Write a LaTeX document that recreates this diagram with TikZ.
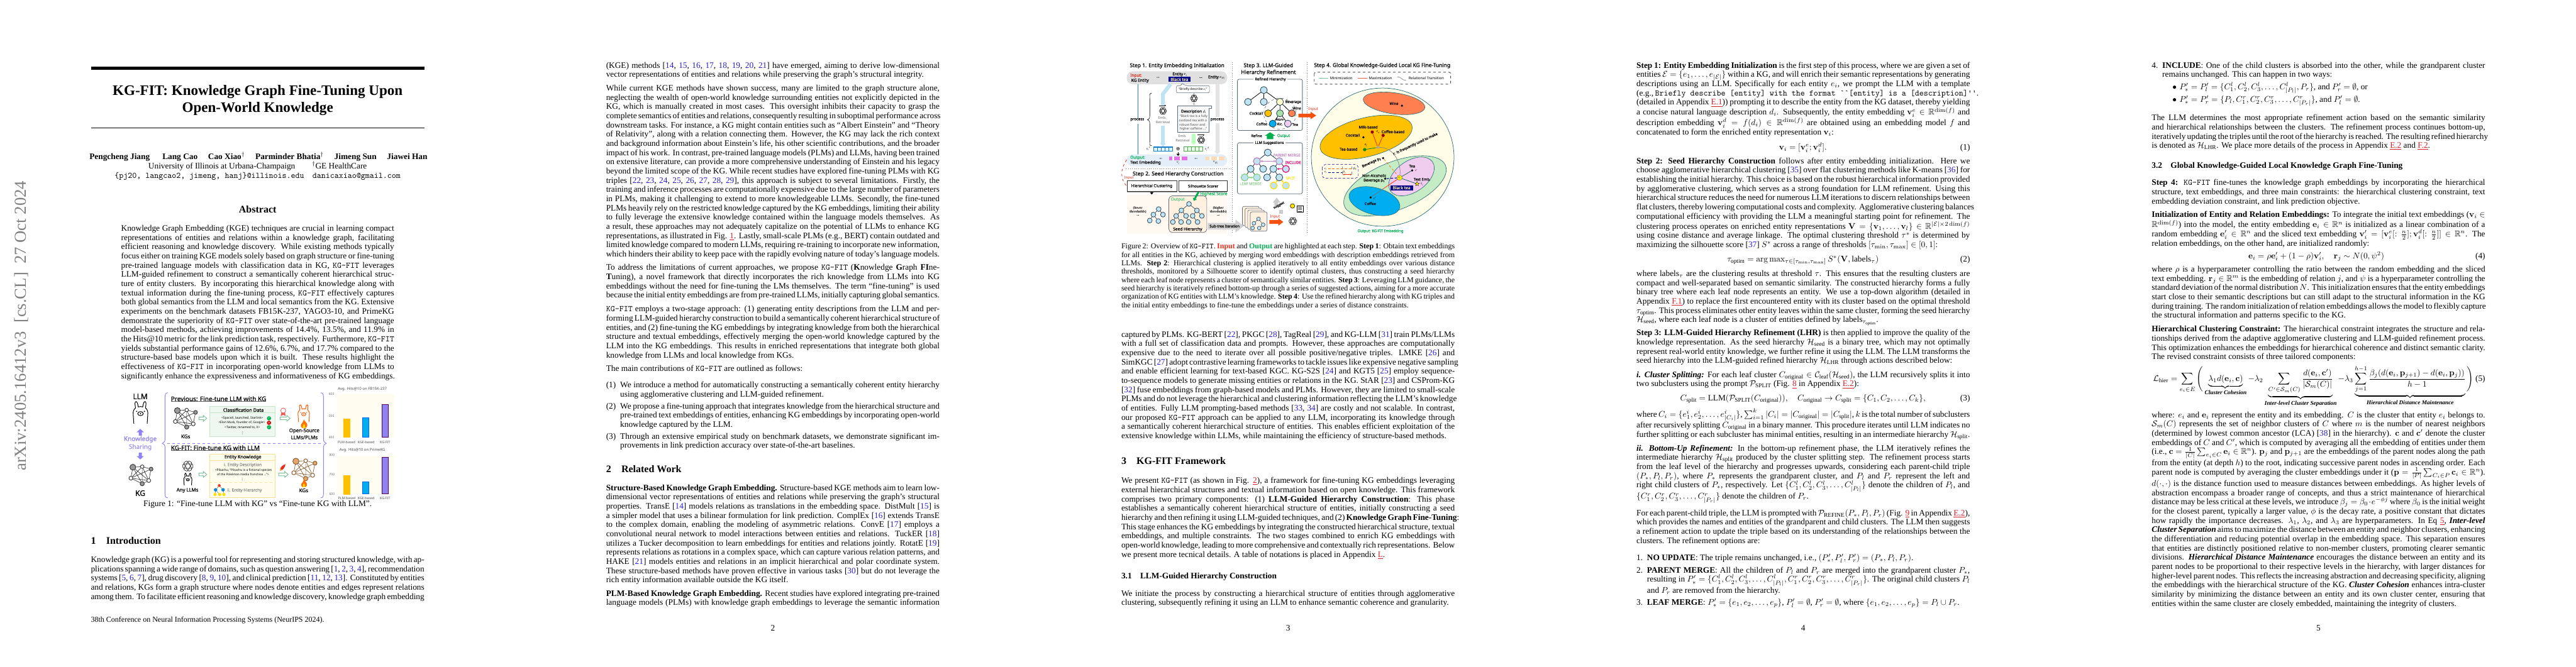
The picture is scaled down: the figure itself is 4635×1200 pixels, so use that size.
\documentclass[tikz,border=0pt]{standalone}
\usepackage{amsmath,amssymb}
\usepackage[no-math]{fontspec}
\setmainfont{Liberation Serif}
\newfontfamily\figf{Noto Sans}
\newfontfamily\figb{Noto Sans}[FakeBold=0.7]
\newfontfamily\dvf{DejaVu Sans}
\usetikzlibrary{arrows.meta,shapes.geometric}
\definecolor{citeb}{HTML}{2A1FC8}
\definecolor{linkr}{HTML}{D8202A}
\definecolor{figpur}{HTML}{8F82F2}
\definecolor{figgrn}{HTML}{7DBE98}
\definecolor{okgrn}{HTML}{00B050}
\definecolor{inred}{HTML}{E8301E}
\definecolor{arrred}{HTML}{F4500F}
\definecolor{boxst}{HTML}{5E6C78}
\definecolor{tblue}{HTML}{BFE3F2}
\definecolor{tedge}{HTML}{14323F}
\definecolor{navyb}{HTML}{00008B}
\definecolor{creamy}{HTML}{F5E79E}
\definecolor{cgold}{HTML}{FFC000}
\definecolor{ccoral}{HTML}{FF7F50}
\definecolor{cgreen}{HTML}{C6ECC6}
\definecolor{cnode}{HTML}{A9DFA9}
\definecolor{cpink}{HTML}{F0CDEF}
\definecolor{ccyan}{HTML}{00AEEF}
\definecolor{ccream}{HTML}{FFFDE8}
\definecolor{ellst}{HTML}{2F6F78}
\definecolor{outpill}{HTML}{E3EEF9}
\definecolor{procbl}{HTML}{2378B0}
\definecolor{clsfill}{HTML}{EFF8F0}
\definecolor{clsedge}{HTML}{C3E6CC}
\definecolor{entfill}{HTML}{FEFCEC}
\definecolor{entedge}{HTML}{F7E08F}
\definecolor{chartbg}{HTML}{FEFDF0}
\newcommand\cbl[1]{\textcolor{citeb}{#1}}
\newcommand\rlk[1]{\textcolor{linkr}{\underline{#1}}}
\newcommand\kgf{\texttt{KG-FIT}}
\def\lw{397.48pt}
\newcommand\LLn[1]{\hbox to \lw{#1}}
\newcommand\LEn[1]{\hbox{#1}}
\newcommand\txtblock[5][397.48pt]{\node[anchor=base west,inner sep=0pt,outer sep=0pt] (#2) at (#3,#4) {\vtop{\def\lw{#1}\hsize=#1\rmfamily\fontsize{10}{11}\selectfont #5}};}
\newcommand\tx[5][]{\node[anchor=base,inner sep=0pt,outer sep=0pt,font=\rmfamily\fontsize{10}{11}\selectfont,#1] (#2) at (#3,#4) {#5};}
\newcounter{lc}
\newcommand\lbl[5][]{\stepcounter{lc}\node[inner sep=0pt,outer sep=0pt,font=\figf,#1] (L\thelc) at (#2,#3) {\fontsize{#4}{#4}\selectfont #5};}
\newcommand\rei[1]{{\rmfamily\itshape #1}}
\tikzset{
 knb/.style={circle,inner sep=0pt,line width=.7pt},
 tn/.style={circle,inner sep=0pt,draw=tedge,line width=.55pt,fill=tblue,minimum size=#1},
 tn/.default=8.4pt,
 sn/.style={tn=5.8pt,line width=.5pt},
 thinarr/.style={-{Triangle[length=2.2pt,width=2.4pt]},line width=.5pt},
 panel/.style={draw=boxst,line width=.6pt,rounded corners=2pt},
}
\newcommand\kgnet[7]{%
\begin{scope}[shift={(#2,#3)},scale=#4,transform shape]
 \node[knb,draw=#5,fill=#6,minimum size=7pt] (#1a) at (-13.9,-14) {};
 \node[knb,draw=#5,fill=white,minimum size=4.2pt] (#1b) at (2.9,-15) {};
 \node[knb,draw=#5,fill=#7,minimum size=4.6pt] (#1c) at (18.8,-10.7) {};
 \node[knb,draw=#5,fill=white,minimum size=4.6pt] (#1d) at (-17.5,5.7) {};
 \node[knb,draw=#5,fill=white,minimum size=4.6pt] (#1e) at (14.7,10) {};
 \node[knb,draw=#5,fill=#6,minimum size=5pt] (#1f) at (2.9,15.7) {};
 \draw[#5,line width=.5pt] (#1a)--(#1b) (#1a)--(#1e) (#1a)--(#1f) (#1a)--(#1d) (#1b)--(#1c) (#1b)--(#1d) (#1b)--(#1f) (#1b)--(#1e) (#1c)--(#1d) (#1c)--(#1e) (#1d)--(#1e) (#1d)--(#1f) (#1e)--(#1f);
\end{scope}}
\newcommand\llamaicon[4]{%
\begin{scope}[shift={(#1,#2)},scale=#3,draw=#4,line width=.75pt]
 \draw (-12,20) -- (-13,5) .. controls (-14,-2) and (-12,-6) .. (-9,-8) -- (-10,-16) .. controls (-10,-21) and (-6,-21) .. (-5,-15) -- (-4,-10) .. controls (-2,-11) and (2,-11) .. (4,-10) -- (5,-15) .. controls (6,-21) and (10,-21) .. (10,-16) -- (9,-8) .. controls (12,-6) and (14,-2) .. (13,5) -- (12,20);
 \draw (0,2) ellipse [x radius=5,y radius=3.6];
 \fill[#4] (-7,-2) circle [radius=1.2] (7,-2) circle [radius=1.2] (0,2) circle [radius=1.3];
\end{scope}}
\newcommand\oailogo[3]{%
\begin{scope}[shift={(#1,#2)},scale=#3,line width=.55pt,draw=black!85]
 \foreach \r in {0,60,120}{\draw[rotate=\r,rounded corners=1.2pt] (-9,-4) rectangle (9,4);}
\end{scope}}
\newcommand\flameicon[3]{%
\begin{scope}[shift={(#1,#2)},scale=#3]
 \fill[orange!90!red] (0,8) .. controls (-7,8) and (-7,1) .. (-3,-2) .. controls (-2,-4) and (-1,-6) .. (0,-8) .. controls (1,-4) and (6,-2) .. (6,2) .. controls (6,6) and (3,8) .. (0,8) -- cycle;
 \fill[yellow!85!orange] (0,8) .. controls (-3,8) and (-3,4) .. (0,0) .. controls (2,3) and (3,8) .. (0,8) -- cycle;
\end{scope}}
\newcommand\hollowarr[4]{%
\begin{scope}[shift={(#1,#2)}]
 \draw[figgrn,fill=white,line width=.7pt] (0,-2.4) -- ({#3-6},-2.4) -- ({#3-6},-5.2) -- (#3,0) -- ({#3-6},5.2) -- ({#3-6},2.4) -- (0,2.4) -- cycle;
\end{scope}}
\newcommand\blockarr[8]{% colour x y rot len halfw headlen headhalf
\begin{scope}[shift={(#2,#3)},rotate=#4]
 \fill[#1] (0,-#6) -- ({#5-#7},-#6) -- ({#5-#7},-#8) -- (#5,0) -- ({#5-#7},#8) -- ({#5-#7},#6) -- (0,#6) -- cycle;
\end{scope}}
\begin{document}
\begin{tikzpicture}[x=0.6625pt,y=-0.6625pt]
\useasboundingbox (0,0) rectangle (4635,1200);
\fill[white] (0,0) rectangle (4635,1200);
%% ---------- PAGE 1
\node[rotate=90,inner sep=0pt,text=black!50,font=\rmfamily\fontsize{20}{20}\selectfont] (stamp) at (38.5,586.5) {arXiv:2405.16412v3\ \ [cs.CL]\ \ 27 Oct 2024};
\fill[black] (163.6,120) rectangle (763.6,126);
\tx[font=\rmfamily\bfseries\fontsize{17.28}{20}\selectfont]{t1}{463.6}{171}{KG-FIT: Knowledge Graph Fine-Tuning Upon}
\tx[font=\rmfamily\bfseries\fontsize{17.28}{20}\selectfont]{t2}{463.6}{201.5}{Open-World Knowledge}
\fill[black] (163.6,229.8) rectangle (763.6,231.3);
\tx{au1}{465}{286.3}{\textbf{Pengcheng Jiang}\quad\ \ \textbf{Lang Cao}\quad\ \textbf{Cao Xiao}$^\dagger$\quad\ \textbf{Parminder Bhatia}$^\dagger$\quad\ \textbf{Jimeng Sun}\quad\ \textbf{Jiawei Han}}
\tx{au2}{463.6}{303.5}{University of Illinois at Urbana-Champaign\qquad$^\dagger$GE HealthCare}
\tx{au3}{463.6}{320.5}{\texttt{\{pj20, langcao2, jimeng, hanj\}@illinois.edu\quad danicaxiao@gmail.com}}
\tx[font=\rmfamily\bfseries\fontsize{12}{14}\selectfont]{abs}{463.6}{382.8}{Abstract}
\txtblock[325.48pt]{abstr}{218}{415.8}{%
\LLn{Knowledge Graph Embedding (KGE) techniques are crucial in learning compact}
\LLn{representations of entities and relations within a knowledge graph, facilitating}
\LLn{efficient reasoning and knowledge discovery. While existing methods typically}
\LLn{focus either on training KGE models solely based on graph structure or fine-tuning}
\LLn{pre-trained language models with classification data in KG, \kgf{} leverages}
\LLn{LLM-guided refinement to construct a semantically coherent hierarchical struc-}
\LLn{ture of entity clusters. By incorporating this hierarchical knowledge along with}
\LLn{textual information during the fine-tuning process, \kgf{} effectively captures}
\LLn{both global semantics from the LLM and local semantics from the KG. Extensive}
\LLn{experiments on the benchmark datasets FB15K-237, YAGO3-10, and PrimeKG}
\LLn{demonstrate the superiority of \kgf{} over state-of-the-art pre-trained language}
\LLn{model-based methods, achieving improvements of 14.4\%, 13.5\%, and 11.9\% in}
\LLn{the Hits@10 metric for the link prediction task, respectively. Furthermore, \kgf}
\LLn{yields substantial performance gains of 12.6\%, 6.7\%, and 17.7\% compared to the}
\LLn{structure-based base models upon which it is built. These results highlight the}
\LLn{effectiveness of \kgf{} in incorporating open-world knowledge from LLMs to}
\LEn{significantly enhance the expressiveness and informativeness of KG embeddings.}}
%% Figure 1 (pixel coordinates)
\lbl[font=\figb]{252.4}{713.7}{8.9}{LLM}
\llamaicon{252.8}{742.5}{1}{black}
\blockarr{figpur}{252.4}{784}{90}{12}{2.8}{6}{6.5}
\lbl[font=\figb,text=figpur]{252.4}{790.7}{7.5}{Knowledge}
\lbl[font=\figb,text=figpur!85]{252.4}{805}{7.5}{Sharing}
\blockarr{figpur}{252.4}{815}{-90}{12}{2.8}{6}{6.5}
\kgnet{ka}{253}{855}{1}{black!80}{black!40}{black!40}
\lbl[font=\figb]{252.4}{887.7}{9}{KG}
\draw[figpur,line width=.7pt] (302,707) .. controls (298,707) and (297,710) .. (297,714) -- (297,790) .. controls (297,795) and (295,797) .. (292,798) .. controls (295,799) and (297,801) .. (297,806) -- (297,889) .. controls (297,894) and (298,896) .. (302,896);
\draw[figpur,line width=.7pt] (577,707) .. controls (581,707) and (582,710) .. (582,714) -- (582,790) .. controls (582,795) and (584,797) .. (587,798) .. controls (584,799) and (582,801) .. (582,806) -- (582,889) .. controls (582,894) and (581,896) .. (577,896);
\draw[figpur,dashed,line width=.7pt] (301,798) -- (578,798);
\lbl[anchor=west,font=\figb]{307.5}{717.7}{7.5}{Previous: Fine-tune LLM with KG}
\draw[black!60,line width=.6pt] (307.5,722.8) -- (479,722.8);
\kgnet{kb}{333}{753}{1}{black!80}{black!40}{black!40}
\lbl[font=\figb]{334}{785.7}{6}{KGs}
\hollowarr{358}{753}{14}{}
\draw[clsedge,fill=clsfill,line width=.6pt] (377,732) rectangle (494.5,786);
\draw[clsedge,line width=.6pt] (377,743) -- (494.5,743);
\lbl[font=\figb]{438}{738}{5.6}{Classification Data}
\lbl{436}{753}{3.7}{<SpaceX, launched, Starlink>}
\lbl{435}{761}{3.6}{<Elon Musk, founder of, Google>}
\lbl{436}{769}{3.7}{<Twitter, renamed to, X>}
\lbl[font=\dvf]{436}{780}{4}{⋮}
\node[circle,fill=okgrn,text=white,font=\dvf,minimum size=5pt,inner sep=0pt] (c1) at (484,753) {\fontsize{3.5}{3.5}\selectfont ✓};
\node[circle,fill=red!85!black,text=white,font=\dvf,minimum size=5pt,inner sep=0pt] (c2) at (484,761) {\fontsize{3.5}{3.5}\selectfont ✕};
\node[circle,fill=okgrn,text=white,font=\dvf,minimum size=5pt,inner sep=0pt] (c3) at (484,769) {\fontsize{3.5}{3.5}\selectfont ✓};
\fill[inred!80] (506.5,742) -- (505,749) -- (509.6,746.5) -- (514,749) -- (512.5,742) -- cycle;
\node[circle,draw=inred!80,fill=white,line width=.6pt,minimum size=6pt,inner sep=0pt] (medal) at (509.6,739) {};
\hollowarr{504}{753}{18}{}
\llamaicon{546.5}{744}{.78}{orange!70!red}
\flameicon{547}{763}{1}
\lbl[font=\figb]{547.5}{775.7}{5.9}{Open-Source}
\lbl[font=\figb]{547.5}{787.3}{6}{LLMs/PLMs}
\lbl[anchor=west,font=\figb]{307.5}{806}{7.5}{KG-FIT: Fine-tune KG with LLM}
\draw[black!60,line width=.6pt] (307.5,811.2) -- (467.5,811.2);
\oailogo{338}{839}{1}
\llamaicon{338}{862.5}{.55}{black}
\lbl[font=\figb]{337.3}{882.7}{5.8}{Any LLMs}
\hollowarr{358}{854}{14}{}
\draw[entedge,fill=entfill,line width=.7pt] (377,817) rectangle (494.5,896);
\draw[entedge,line width=.7pt] (377,829) -- (494.5,829);
\draw[entedge,dashed,line width=.6pt] (377,868.7) -- (494.5,868.7);
\lbl[font=\figb]{437}{823}{5.4}{Entity Knowledge}
\lbl[text=black!45,font=\figb]{437}{837}{4.9}{i. Entity Description}
\lbl{438}{846.3}{3.7}{<Pikachu, “Pikachu is a fictional species}
\lbl{437.3}{854.3}{3.6}{of the Pokémon media franchise ...”>}
\lbl[font=\dvf]{436}{863}{4}{⋮}
\node[circle,fill=inred,minimum size=3.4pt,inner sep=0pt] (hi1) at (394.5,874) {};
\node[circle,fill=cyan!70!blue,minimum size=4.2pt,inner sep=0pt] (hi2) at (388,881.7) {};
\node[circle,fill=cyan!70!blue,minimum size=4.2pt,inner sep=0pt] (hi3) at (401.4,881.7) {};
\node[circle,fill=yellow!80!orange,minimum size=3.8pt,inner sep=0pt] (hi4) at (387,890) {};
\node[circle,fill=yellow!80!orange,minimum size=3.8pt,inner sep=0pt] (hi5) at (395.3,890) {};
\node[circle,fill=yellow!80!orange,minimum size=3.8pt,inner sep=0pt] (hi6) at (402.7,890) {};
\draw[black!70,line width=.3pt] (hi1)--(hi2) (hi1)--(hi3) (hi2)--(hi4) (hi2)--(hi5) (hi3)--(hi6);
\lbl[text=black!45,font=\figb]{440}{882.7}{4.8}{ii. Entity Hierarchy}
\begin{scope}[shift={(508.4,841.7)},rotate=-40]
 \fill[inred] (0,-8) .. controls (3,-4) and (3,2) .. (2,4) -- (-2,4) .. controls (-3,2) and (-3,-4) .. (0,-8) -- cycle;
 \fill[orange] (-1.5,4) -- (0,8) -- (1.5,4) -- cycle;
\end{scope}
\hollowarr{501.4}{854}{17}{}
\kgnet{kc}{547}{845}{1.05}{brown!70!black}{brown!70!orange!70}{brown!70!orange!70}
\flameicon{547}{870}{.9}
\lbl[font=\figb]{546.3}{882.7}{6}{KGs}
% bar charts
\lbl[text=black!70]{652}{700}{4.5}{Avg. Hits@10 on FB15K-237}
\fill[chartbg] (606.7,710) rectangle (709.6,787.3);
\lbl[text=black!60]{596.5}{709.3}{3.7}{600}\lbl[text=black!60]{596.5}{748.3}{3.7}{500}\lbl[text=black!60]{596.5}{787}{3.7}{400}
\draw[cgold,fill=cgold,line width=.4pt] (617.8,754.3) rectangle (629.2,787.3);
\draw[blue!60!cyan,fill=ccyan,line width=.6pt] (652.4,751.3) rectangle (663.5,787.3);
\draw[violet!70!black,fill=figpur,line width=.8pt] (687.5,727.7) rectangle (698.6,787.3);
\lbl[text=black!70]{623.5}{795.7}{4}{PLM-based}\lbl[text=black!70]{658.6}{795.7}{4}{KGE-based}\lbl[text=black!70]{692.9}{795.7}{4}{KG-FIT}
\lbl[text=black!70]{652}{809.7}{4.5}{Avg. Hits@10 on PrimeKG}
\fill[chartbg] (606.7,820) rectangle (709.6,889.3);
\lbl[text=black!60]{597.3}{819}{3.7}{800}\lbl[text=black!60]{597.3}{854}{3.7}{700}\lbl[text=black!60]{597.3}{889}{3.7}{600}
\draw[cgold,fill=cgold,line width=.4pt] (618.5,856) rectangle (629.8,889.3);
\draw[blue!60!cyan,fill=ccyan,line width=.6pt] (652.4,867) rectangle (663.5,889.3);
\draw[violet!70!black,fill=figpur,line width=.8pt] (687.5,823.3) rectangle (698.6,889.3);
\lbl[text=black!70]{623.9}{897.3}{4}{PLM-based}\lbl[text=black!70]{658.6}{897.3}{4}{KGE-based}\lbl[text=black!70]{692.9}{897.3}{4}{KG-FIT}
\tx{cap1}{463.6}{912}{Figure 1: “Fine-tune LLM with KG” vs “Fine-tune KG with LLM”.}
\tx[anchor=base west,font=\rmfamily\bfseries\fontsize{12}{14}\selectfont]{s1n}{163.6}{979}{1}
\tx[anchor=base west,font=\rmfamily\bfseries\fontsize{12}{14}\selectfont]{s1t}{191}{979}{Introduction}
\txtblock{intro}{163.6}{1012.3}{%
\LLn{Knowledge graph (KG) is a powerful tool for representing and storing structured knowledge, with ap-}
\LLn{plications spanning a wide range of domains, such as question answering [\cbl{1}, \cbl{2}, \cbl{3}, \cbl{4}], recommendation}
\LLn{systems [\cbl{5}, \cbl{6}, \cbl{7}], drug discovery [\cbl{8}, \cbl{9}, \cbl{10}], and clinical prediction [\cbl{11}, \cbl{12}, \cbl{13}]. Constituted by entities}
\LLn{and relations, KGs form a graph structure where nodes denote entities and edges represent relations}
\LLn{among them. To facilitate efficient reasoning and knowledge discovery, knowledge graph embedding}}
\tx[anchor=base west,font=\rmfamily\fontsize{9}{10}\selectfont]{fn}{163.6}{1120}{38th Conference on Neural Information Processing Systems (NeurIPS 2024).}
%% ---------- PAGE 2
\txtblock{p2a}{1090.6}{122.4}{%
\LLn{(KGE) methods [\cbl{14}, \cbl{15}, \cbl{16}, \cbl{17}, \cbl{18}, \cbl{19}, \cbl{20}, \cbl{21}] have emerged, aiming to derive low-dimensional}
\LEn{vector representations of entities and relations while preserving the graph’s structural integrity.}}
\txtblock{p2b}{1090.6}{163.5}{%
\LLn{While current KGE methods have shown success, many are limited to the graph structure alone,}
\LLn{neglecting the wealth of open-world knowledge surrounding entities not explicitly depicted in the}
\LLn{KG, which is manually created in most cases. This oversight inhibits their capacity to grasp the}
\LLn{complete semantics of entities and relations, consequently resulting in suboptimal performance across}
\LLn{downstream tasks. For instance, a KG might contain entities such as “Albert Einstein” and “Theory}
\LLn{of Relativity”, along with a relation connecting them. However, the KG may lack the rich context}
\LLn{and background information about Einstein’s life, his other scientific contributions, and the broader}
\LLn{impact of his work. In contrast, pre-trained language models (PLMs) and LLMs, having been trained}
\LLn{on extensive literature, can provide a more comprehensive understanding of Einstein and his legacy}
\LLn{beyond the limited scope of the KG. While recent studies have explored fine-tuning PLMs with KG}
\LLn{triples [\cbl{22}, \cbl{23}, \cbl{24}, \cbl{25}, \cbl{26}, \cbl{27}, \cbl{28}, \cbl{29}], this approach is subject to several limitations. Firstly, the}
\LLn{training and inference processes are computationally expensive due to the large number of parameters}
\LLn{in PLMs, making it challenging to extend to more knowledgeable LLMs. Secondly, the fine-tuned}
\LLn{PLMs heavily rely on the restricted knowledge captured by the KG embeddings, limiting their ability}
\LLn{to fully leverage the extensive knowledge contained within the language models themselves. As}
\LLn{a result, these approaches may not adequately capitalize on the potential of LLMs to enhance KG}
\LLn{representations, as illustrated in Fig. \rlk{1}. Lastly, small-scale PLMs (e.g., BERT) contain outdated and}
\LLn{limited knowledge compared to modern LLMs, requiring re-training to incorporate new information,}
\LLn{which hinders their ability to keep pace with the rapidly evolving nature of today’s language models.}}
\txtblock{p2c}{1090.6}{486.2}{%
\LLn{To address the limitations of current approaches, we propose \kgf{} (\textbf{K}nowledge \textbf{G}raph \textbf{FI}ne-}
\LLn{\textbf{T}uning), a novel framework that directly incorporates the rich knowledge from LLMs into KG}
\LLn{embeddings without the need for fine-tuning the LMs themselves. The term “fine-tuning” is used}
\LLn{because the initial entity embeddings are from pre-trained LLMs, initially capturing global semantics.}}
\txtblock{p2d}{1090.6}{560.9}{%
\LLn{\kgf{} employs a two-stage approach: (1) generating entity descriptions from the LLM and per-}
\LLn{forming LLM-guided hierarchy construction to build a semantically coherent hierarchical structure of}
\LLn{entities, and (2) fine-tuning the KG embeddings by integrating knowledge from both the hierarchical}
\LLn{structure and textual embeddings, effectively merging the open-world knowledge captured by the}
\LLn{LLM into the KG embeddings. This results in enriched representations that integrate both global}
\LEn{knowledge from LLMs and local knowledge from KGs.}}
\txtblock{p2e}{1090.6}{668}{\LEn{The main contributions of \kgf{} are outlined as follows:}}
\tx[anchor=base west]{c1n}{1090.6}{697.5}{(1)}
\txtblock[380.6pt]{c1t}{1116}{697.5}{%
\LLn{We introduce a method for automatically constructing a semantically coherent entity hierarchy}
\LEn{using agglomerative clustering and LLM-guided refinement.}}
\tx[anchor=base west]{c2n}{1090.6}{735.8}{(2)}
\txtblock[380.6pt]{c2t}{1116}{735.8}{%
\LLn{We propose a fine-tuning approach that integrates knowledge from the hierarchical structure and}
\LLn{pre-trained text embeddings of entities, enhancing KG embeddings by incorporating open-world}
\LEn{knowledge captured by the LLM.}}
\tx[anchor=base west]{c3n}{1090.6}{790}{(3)}
\txtblock[380.6pt]{c3t}{1116}{790}{%
\LLn{Through an extensive empirical study on benchmark datasets, we demonstrate significant im-}
\LEn{provements in link prediction accuracy over state-of-the-art baselines.}}
\tx[anchor=base west,font=\rmfamily\bfseries\fontsize{12}{14}\selectfont]{s2n}{1090.6}{850.5}{2}
\tx[anchor=base west,font=\rmfamily\bfseries\fontsize{12}{14}\selectfont]{s2t}{1118}{850.5}{Related Work}
\txtblock{p2f}{1090.6}{882.8}{%
\LLn{\textbf{Structure-Based Knowledge Graph Embedding.} Structure-based KGE methods aim to learn low-}
\LLn{dimensional vector representations of entities and relations while preserving the graph’s structural}
\LLn{properties. TransE [\cbl{14}] models relations as translations in the embedding space. DistMult [\cbl{15}] is}
\LLn{a simpler model that uses a bilinear formulation for link prediction. ComplEx [\cbl{16}] extends TransE}
\LLn{to the complex domain, enabling the modeling of asymmetric relations. ConvE [\cbl{17}] employs a}
\LLn{convolutional neural network to model interactions between entities and relations. TuckER [\cbl{18}]}
\LLn{utilizes a Tucker decomposition to learn embeddings for entities and relations jointly. RotatE [\cbl{19}]}
\LLn{represents relations as rotations in a complex space, which can capture various relation patterns, and}
\LLn{HAKE [\cbl{21}] models entities and relations in an implicit hierarchical and polar coordinate system.}
\LLn{These structure-based methods have proven effective in various tasks [\cbl{30}] but do not leverage the}
\LEn{rich entity information available outside the KG itself.}}
\txtblock{p2g}{1090.6}{1073}{%
\LLn{\textbf{PLM-Based Knowledge Graph Embedding.} Recent studies have explored integrating pre-trained}
\LLn{language models (PLMs) with knowledge graph embeddings to leverage the semantic information}}
\tx{pn2}{1390.6}{1135}{2}
%% ---------- PAGE 3: figure 2
\draw[black!55,dotted,line width=.5pt] (2217.6,112) -- (2217.6,420);
\draw[black!55,dotted,line width=.5pt] (2352.3,112) -- (2352.3,420);
\draw[black!55,dotted,line width=.5pt] (2026,303.5) -- (2217.6,303.5);
\draw[fill=ccream,draw=ellst,line width=.55pt] (2487.8,282.9) ellipse [x radius=128.4,y radius=124.4];
\draw[fill=ccoral,draw=ellst,line width=.5pt,rotate around={-8:(2508.3,186)}] (2508.3,186) ellipse [x radius=56,y radius=19];
\draw[fill=cgold,draw=ellst,line width=.5pt,rotate around={14:(2458,247)}] (2458,247) ellipse [x radius=85,y radius=35];
\draw[fill=cgreen,draw=ellst,line width=.5pt,rotate around={22:(2510,334.6)}] (2510,334.6) ellipse [x radius=98,y radius=43];
\draw[fill=cpink,draw=ellst,line width=.5pt,rotate around={35:(2539.7,317.6)}] (2539.7,317.6) ellipse [x radius=46,y radius=28];
\draw[fill=ccyan,draw=ellst,line width=.5pt,rotate around={-15:(2473,362)}] (2473,362) ellipse [x radius=47,y radius=24];
\begin{scope}[shift={(1860,0)},x=0.3929pt,y=-0.2197pt]
% Step 1
\lbl[font=\figb]{435}{357}{6.3}{Step 1. Entity Embedding Initialization}
\fill[black!12,rounded corners=7pt] (282,387) rectangle (587,457);
\lbl[anchor=west,text=inred,font=\figb]{293}{411}{4.9}{Input:}
\lbl[anchor=west,font=\figb]{296}{438}{4.9}{KG Entity}
\lbl[font=\figb]{377}{420}{4.5}{...}
\lbl[font=\figb]{443}{404}{4.7}{Entity \rei{e}\textsubscript{\rei{i}}}
\fill[navyb] (408,417) rectangle (476,445);
\lbl[text=creamy,font=\figb]{442}{431}{5}{Black tea}
\lbl[font=\figb]{507}{421}{4.5}{...}
\lbl[font=\figb]{555}{421}{4.7}{Entity \rei{e}\textsubscript{\rei{|E|}}}
\draw[procbl,line width=.7pt] (317,457) -- (317,640) (317,672) -- (317,838);
\lbl[font=\figb]{314}{650}{4.5}{process}
\draw[black,line width=.45pt] (358,505) .. controls (350,505) and (352,520) .. (352,535) -- (352,630) .. controls (352,645) and (348,648) .. (345,650) .. controls (348,652) and (352,655) .. (352,670) -- (352,770) .. controls (352,785) and (350,790) .. (358,790);
\draw[tblue,line width=4.6pt] (415,457) -- (392,510) -- (392,572);
\draw[tblue,line width=4.6pt,-{Triangle[length=4pt,width=7pt]}] (392,682) -- (392,796);
\lbl[text=black!60]{390}{640}{4.1}{Emb.}
\lbl[text=black!60]{392}{665}{4.1}{Retrieval}
\draw[black!10,line width=4.6pt] (557,457) -- (557,635);
\draw[black!10,line width=4.6pt,-{Triangle[length=4pt,width=7pt]}] (557,668) -- (557,838);
\lbl[font=\figb]{557}{650}{4.5}{process}
\draw[boxst,fill=white,line width=.45pt,rounded corners=1pt] (433,465) -- (447,465) -- (449,452) -- (462,465) -- (533,465) -- (533,503) -- (433,503) -- cycle;
\lbl{483}{484}{3.75}{“Briefly describe \rei{e}\textsubscript{\rei{i}}”}
\draw[black!30,thinarr] (486,506) -- (486,520);
\draw[black!30,thinarr] (486,552) -- (486,572);
\draw[boxst,fill=black!3,line width=.5pt] (437,576) -- (540,576) -- (540,588) -- (531,588) -- (531,717) -- (437,717) -- cycle;
\lbl[font=\figb]{485}{606}{4.6}{Description \rei{d}\textsubscript{\rei{i}}}
\lbl[text=black!70]{485}{633}{3.8}{“Black tea is a fully}
\lbl[text=black!70]{483}{655}{3.8}{oxidized tea with a}
\lbl[text=black!70]{481}{677}{3.8}{robust flavor and}
\lbl[text=black!70]{484}{700}{3.8}{higher caffeine ...”}
\lbl[text=black!60]{451}{738}{4.1}{Emb.}
\lbl[text=black!60]{452}{763}{4.1}{Retrieval}
\draw[green!40!white!70,line width=4pt,-{Triangle[length=4pt,width=6.5pt]}] (485,727) -- (485,787);
\draw[line width=.3pt,cyan!60!blue,fill=cyan!12] (363,798) rectangle (421,820);
\foreach \x in {374.6,386.2,397.8,409.4}{\draw[cyan!60!blue,line width=.6pt] (\x,798) -- (\x,820);}
\draw[cyan!60!blue,line width=.7pt] (363,798) rectangle (421,820);
\draw[green!50!black!70,fill=green!8,line width=.6pt] (455,798) rectangle (512,820);
\foreach \x in {466.4,477.8,489.2,500.6}{\draw[green!50!black!70,line width=.6pt] (\x,798) -- (\x,820);}
\lbl{348}{808}{4.2}{\rei{v}\textsubscript{\rei{i}}\textsuperscript{\rei{e}}}
\lbl{526}{808}{4.2}{\rei{v}\textsubscript{\rei{i}}\textsuperscript{\rei{d}}}
\lbl[font=\dvf]{438}{810}{6}{⊕}
\fill[outpill,rounded corners=7pt] (282,838) rectangle (587,903);
\draw[black,line width=1.1pt,-{Triangle[length=2.5pt,width=4pt]}] (438,826) -- (438,846);
\lbl[anchor=west,text=okgrn,font=\figb]{293}{856}{4.9}{Output:}
\lbl[anchor=west,font=\figb]{293}{883}{4.8}{Text Embedding}
\lbl[font=\figb]{385}{860}{4.5}{...}
\fill[violet!40!magenta!55] (410,848) rectangle (467,869);
\foreach \x in {421,444}{\fill[white] (\x,848) rectangle (\x+5,869);}
\lbl{438}{885}{4.2}{\rei{v}\textsubscript{\rei{i}}}
\lbl[font=\figb]{492}{860}{4.5}{...}
\fill[orange!28] (522,848) rectangle (578,869);
\foreach \x in {533,556}{\fill[white] (\x,848) rectangle (\x+5,869);}
\lbl{552}{883}{4.2}{\rei{v}\textsubscript{\rei{|E|}}}
\draw[inred,dashed,line width=.6pt] (282,868) .. controls (262,920) and (262,970) .. (282,1010);
\lbl[text=inred]{289}{966}{4.4}{Input}
% Step 2
\lbl[font=\figb]{438}{945}{6.4}{Step 2. Seed Hierarchy Construction}
\draw[black!80,fill=white,line width=.7pt] (283,980) rectangle (435,1040);
\draw[black!80,fill=white,line width=.7pt] (441,980) rectangle (587,1040);
\draw[black!45,line width=.8pt] (283,1041) -- (435,1041) (441,1041) -- (587,1041);
\lbl[font=\figb]{358}{1010}{4.6}{Hierarchical Clustering}
\lbl[font=\figb]{514}{1010}{4.5}{Silhouette Scorer}
\fill[orange!5] (283,1055) rectangle (587,1268);
\draw[black,line width=1.1pt,-{Triangle[length=2.5pt,width=4pt]}] (358,1041) -- (358,1056);
\draw[boxst,fill=orange!12,line width=.55pt,rounded corners=4pt] (410,1063) rectangle (525,1262);
\lbl[text=okgrn,font=\figf]{437}{1084}{4.9}{Output}
\draw[okgrn,line width=2.2pt,-{Triangle[length=3pt,width=5pt]}] (500,1042) -- (485,1090);
\lbl[text=okgrn,font=\figb]{546}{1053}{5}{Highest Score}
\lbl[font=\rmfamily\bfseries]{316}{1130}{4.2}{(lower}
\lbl[font=\rmfamily\bfseries]{316}{1150}{4.2}{thresholds)}
\lbl[font=\figb]{316}{1168}{4}{...}
\lbl[font=\rmfamily\bfseries]{560}{1130}{4.2}{(higher}
\lbl[font=\rmfamily\bfseries]{560}{1150}{4.2}{thresholds)}
\lbl[font=\figb]{560}{1168}{4}{...}
\node[sn] (la) at (379,1135) {};\node[sn] (lb) at (363,1165) {};\node[sn] (lc) at (392,1165) {};\node[sn] (ld) at (352,1197) {};\node[sn] (le) at (378,1200) {};
\draw[tedge,line width=.45pt] (la)--(lb) (la)--(lc) (lb)--(ld) (lb)--(le);
\node[sn] (sa) at (471,1107) {};\node[sn] (sb) at (448,1142) {};\node[sn] (sc) at (495,1142) {};
\node[sn] (sd) at (432,1172) {};\node[sn] (se) at (462,1172) {};\node[sn] (sf) at (482,1172) {};\node[sn] (sg) at (510,1172) {};
\node[sn] (sh) at (422,1205) {};\node[sn] (si) at (447,1205) {};\node[sn] (sj) at (470,1205) {};\node[sn] (sk) at (497,1205) {};
\draw[tedge,line width=.45pt] (sa)--(sb) (sa)--(sc) (sb)--(sd) (sb)--(se) (sc)--(sf) (sc)--(sg) (sd)--(sh) (sd)--(si) (se)--(sj) (sf)--(sk);
\lbl[font=\figb]{467}{1245}{4.9}{Seed Hierarchy}
\fill[black!18] (528,1210) -- (612,1210) -- (612,1192) -- (637,1227) -- (612,1262) -- (612,1245) -- (528,1245) -- cycle;
\lbl[font=\figb]{579}{1227}{4.3}{Sub-tree Iteration}
\foreach \a/\b in {633/1120,641/1130,649/1140,657/1150}{\draw[boxst,fill=orange!12,line width=.5pt,rounded corners=2pt] (\a,\b) rectangle (\a+51,\b+105);}
\node[tn=4.5pt,line width=.4pt] (ca) at (682,1188) {};\node[tn=4.5pt,line width=.4pt] (cb) at (668,1212) {};\node[tn=4.5pt,line width=.4pt] (cc) at (696,1220) {};\node[tn=4.5pt,line width=.4pt] (cd) at (664,1238) {};\node[tn=4.5pt,line width=.4pt] (ce) at (684,1238) {};
\draw[tedge,line width=.35pt] (ca)--(cb) (ca)--(cc) (cb)--(cd) (cc)--(ce);
\lbl[text=inred]{732}{1176}{4.7}{Input}
\fill[black!20] (725,1100) -- (737,1073) -- (749,1100) -- (741,1100) -- (741,1118) -- (730,1118) -- (730,1100) -- cycle;
\fill[black!20] (745,1140) -- (756,1140) -- (756,1160) -- (745,1160) -- cycle;
\lbl[rotate=28,font=\figb]{744}{1115}{3.8}{suggest}
\node[circle,draw=black,fill=yellow!85!orange,line width=.4pt,minimum size=5.4pt,inner sep=0pt] (bulb) at (785,1118) {};
\draw[black,line width=.35pt,fill=white] (798,1115) rectangle (818,1152);
\foreach \y in {1123,1131,1139,1146}{\draw[black!70,line width=.5pt] (802,\y) -- (814,\y);}
% Step 3
\lbl[font=\figb]{712}{357}{6.4}{Step 3. LLM-Guided}
\lbl[font=\figb]{712}{394}{6.4}{Hierarchy Refinement}
\draw[panel] (618,430) rectangle (815,708);
\lbl[fill=white,inner xsep=2pt,inner ysep=1pt,font=\figb]{718}{431}{4.4}{Refined Hierarchy}
\draw[black!70,dashed,line width=.35pt] (747,617) ellipse [x radius=49,y radius=84];
\node[tn] (ra) at (698,489) {};
\node[tn] (rb) at (650,553) {};
\node[tn] (rc) at (698,553) {};
\node[tn,fill=yellow!20] (rd) at (747,553) {};
\node[tn,fill=cgold] (re) at (711,615) {};
\node[tn,fill=cnode] (rf) at (747,615) {};
\node[tn,fill=ccoral] (rg) at (783,615) {};
\node[tn,fill=ccyan] (rh) at (725,671) {};
\node[tn,fill=cpink] (ri) at (771,671) {};
\draw[black,line width=.6pt] (ra)--(rb) (ra)--(rc) (ra)--(rd) (rd)--(re) (rd)--(rf) (rd)--(rg) (rf)--(rh) (rf)--(ri);
\lbl[font=\figb]{787}{554}{4.3}{Beverage}
\lbl[font=\figb]{798}{588}{4.3}{Wine}
\lbl[font=\figb]{675}{615}{4.3}{Cocktail}
\lbl[font=\figb]{692}{673}{4.3}{Coffee}
\lbl[font=\figb]{747}{648}{4.3}{Non-}
\lbl[font=\figb]{747}{673}{4.3}{Alc.}
\lbl[font=\figb]{793}{676}{4.3}{Tea}
\lbl[font=\figb]{676}{737}{4.4}{Refine}
\fill[okgrn] (707,755) -- (707,737) -- (701,737) -- (717,718) -- (733,737) -- (727,737) -- (727,755) -- cycle;
\lbl[text=okgrn,font=\figb]{758}{738}{4.5}{Output}
\draw[panel] (618,775) rectangle (815,1052);
\lbl[fill=white,inner xsep=2pt,inner ysep=1pt,font=\figb]{715}{776}{4.3}{LLM Suggestions}
\node[tn] (ua) at (710,828) {};
\node[tn,draw=violet!50!white,line width=.9pt] (ub) at (677,875) {};
\node[tn,draw=violet!50!white,line width=.9pt] (uc) at (745,875) {};
\node[tn] (ud) at (658,917) {};
\node[tn] (ue) at (696,917) {};
\node[tn] (uf) at (727,917) {};
\node[tn,draw=magenta!75!red,line width=.9pt] (ug) at (765,917) {};
\node[tn,draw=green!45!gray!70,line width=.9pt,fill=tblue] (uh) at (640,963) {};
\node[tn,draw=green!45!gray!70,line width=.9pt,fill=tblue] (ui) at (677,963) {};
\node[tn] (uj) at (708,963) {};
\node[tn] (uk) at (745,963) {};
\node[tn,draw=yellow!80!orange,line width=.9pt] (ul) at (728,1007) {};
\node[tn,draw=yellow!80!orange,line width=.9pt] (um) at (765,1007) {};
\draw[tedge,line width=.6pt] (ua)--(ub) (ua)--(uc) (ub)--(ud) (ub)--(ue) (uc)--(uf) (uc)--(ug) (ud)--(uh) (ud)--(ui) (uf)--(uj) (uf)--(uk);
\draw[violet!50!white,line width=.55pt,{Triangle[length=2pt,width=2.2pt]}-{Triangle[length=2pt,width=2.2pt]}] (ub)--(uc);
\draw[magenta!75!red,line width=.6pt,-{Triangle[length=2.2pt,width=2.4pt]}] (ug)--(uf);
\draw[green!45!gray!70,line width=.55pt,{Triangle[length=2pt,width=2.2pt]}-{Triangle[length=2pt,width=2.2pt]}] (uh)--(ui);
\draw[yellow!80!orange,line width=.8pt,-{Triangle[length=2.2pt,width=2.6pt]}] (uk)--(ul);
\draw[yellow!80!orange,line width=.8pt,-{Triangle[length=2.2pt,width=2.6pt]}] (uk)--(um);
\lbl[text=violet!45!white,font=\figb]{768}{842}{4.4}{PARENT MERGE}
\lbl[text=magenta!75!red,font=\figb]{787}{882}{4.4}{INCLUDE}
\lbl[text=yellow!85!orange,font=\figb]{779}{967}{4.2}{SPLIT}
\lbl[text=green!40!gray!60,font=\figb]{658}{997}{4.4}{LEAF MERGE}
\lbl[text=inred]{848}{595}{4.7}{Input}
\fill[arrred] (803,617) -- (840,617) -- (840,607) -- (857,627) -- (840,647) -- (840,637) -- (803,637) -- cycle;
\fill[arrred] (715,1195) -- (742,1195) -- (742,1185) -- (757,1205) -- (742,1225) -- (742,1215) -- (715,1215) -- cycle;
% Step 4
\lbl[font=\figb]{1057}{356}{6.3}{Step 4. Global Knowledge-Guided Local KG Fine-Tuning}
\draw[black!70,dashed,line width=.7pt,rounded corners=2pt] (851,392) rectangle (1265,457);
\draw[figgrn,line width=.9pt] (865,425) -- (893,425);
\lbl{933}{425}{4.4}{Minimization}
\draw[inred!80,line width=.9pt] (984,425) -- (1012,425);
\lbl{1052}{425}{4.4}{Maximization}
\draw[black!60,line width=.4pt] (1103,417) .. controls (1115,417) and (1118,437) .. (1130,437);
\lbl{1191}{425}{4.4}{Relational Transition}
\lbl[font=\figb]{1093}{562}{4.4}{Wine}
\node[circle,fill=black,minimum size=2.8pt,inner sep=0pt] (dw) at (1117,574) {};
\lbl[font=\figb]{1015}{690}{4.4}{Milk-based}
\lbl[font=\figb]{1090}{715}{4.4}{Coffee-based}
\lbl[font=\figb]{968}{734}{4.5}{Cocktail}
\lbl[font=\figb]{955}{810}{4.4}{Tea-based}
\lbl{1008}{788}{4.4}{\rei{e}\textsubscript{\rei{j}}}
\lbl{1045}{717}{4.4}{\rei{e}\textsubscript{\rei{n}}}
\node[circle,fill=black,minimum size=2.8pt,inner sep=0pt] (dc) at (1000,745) {};
\node[circle,fill=red!60!black,minimum size=3.8pt,inner sep=0pt] (dm) at (1027,717) {};
\node[circle,fill=red!60!black,minimum size=3.8pt,inner sep=0pt] (dn) at (1060,735) {};
\node[circle,fill=green!60!black,draw=black!60,line width=.2pt,minimum size=3.8pt,inner sep=0pt] (dt) at (1004,812) {};
\node[circle,fill=black!35,minimum size=3.4pt,inner sep=0pt] (cg) at (1044,800) {};
\node[circle,fill=yellow,draw=black!60,line width=.3pt,minimum size=6.2pt,inner sep=0pt] (ei) at (1110,965) {};
\lbl{1110}{965}{3.4}{\rei{e}\textsubscript{\rei{i}}}
\node[circle,fill=black,minimum size=2.8pt,inner sep=0pt] (dp2) at (1060,858) {};
\node[circle,fill=black,minimum size=2.8pt,inner sep=0pt] (dp1) at (1066,970) {};
\node[circle,fill=black,minimum size=2.8pt,inner sep=0pt] (dtc) at (1148,925) {};
\node[circle,fill=black,minimum size=2.8pt,inner sep=0pt] (dcc) at (1022,1072) {};
\node[star,star points=5,star point ratio=2.3,fill=yellow!90!orange,draw=black,line width=.25pt,minimum size=5.5pt,inner sep=0pt] (st) at (1163,998) {};
\draw[green!55!black,line width=.6pt] (dt)--(cg);
\draw[red!90!orange,line width=.5pt] (cg)--(dm) (cg)--(dn);
\draw[black!50,line width=.5pt] (cg) .. controls (1095,800) and (1115,890) .. (ei);
\draw[orange!85!red,densely dashed,line width=.5pt] (dp2)--(ei);
\draw[navyb,densely dashed,line width=.8pt] (dp1)--(ei);
\draw[teal!70!black,line width=.5pt] (ei)--(dtc) (ei)--(st);
\draw[red!70!orange,line width=.55pt] (ei)--(1060,1025);
\draw[black!55,line width=.55pt] (1060,1025)--(dcc);
\lbl[rotate=25,font=\figb]{1158}{782}{4.3}{r: is frequently used to make}
\lbl[rotate=25,font=\figb]{1025}{882}{4.2}{Beverage p\textsubscript{2}}
\lbl[font=\figb]{1148}{902}{4.4}{Tea}
\lbl{1160}{927}{4.2}{\rei{c}}
\lbl[font=\figb]{1178}{973}{4.4}{Text Emb.}
\lbl{1178}{1000}{4.2}{\rei{v}\textsubscript{\rei{i}}}
\fill[navyb] (1083,1005) rectangle (1151,1033);
\lbl[text=creamy,font=\figb]{1116}{1019}{5}{Black tea}
\lbl[font=\figb]{1033}{953}{4.4}{Non-Alcoholic}
\lbl[font=\figb]{1033}{980}{4.4}{Beverage p\textsubscript{1}}
\lbl{1035}{1077}{4.2}{\rei{c'}}
\lbl[font=\figb]{1021}{1105}{4.4}{Coffee}
\draw[blue!55!black,densely dashed,line width=.4pt,rounded corners=4pt] (875,893) rectangle (985,968);
\lbl{885}{917}{3.4}{\rei{e}\textsubscript{\rei{i}}}
\lbl{885}{935}{3.4}{\rei{e}\textsubscript{\rei{i}}}
\draw[orange!85!red,densely dashed,line width=.45pt] (893,917) -- (965,917);
\draw[navyb,densely dashed,line width=.6pt] (893,935) -- (935,935);
\draw[black!45,dashed,line width=.25pt] (935,905) -- (935,955) (965,905) -- (965,955);
\lbl{975}{918}{3.4}{p\textsubscript{2}}
\lbl{943}{936}{3.4}{p\textsubscript{1}}
\draw[inred,line width=.45pt,{Triangle[length=1.5pt,width=1.8pt]}-{Triangle[length=1.5pt,width=1.8pt]}] (938,947) -- (965,947);
\lbl[text=okgrn,font=\figb]{1052}{1255}{4.3}{Output: KG-FIT Embedding}
\end{scope}
\oailogo{2092.5}{199.7}{.7}
\oailogo{2148.3}{177.1}{.7}
\oailogo{2161.3}{252.1}{.7}
\oailogo{2326.2}{398}{.75}
\draw[black,line width=.45pt,-{Triangle[length=1.4pt,width=1.6pt]}] (2086,190) -- (2098,190);
\draw[black,line width=.45pt,-{Triangle[length=1.4pt,width=1.6pt]}] (2155,243) -- (2167,243);
%% page 3 text
\txtblock{cap2}{2017.6}{448}{\fontsize{9}{10}\selectfont
\LLn{Figure 2: Overview of \kgf. \textcolor{inred}{\textbf{Input}} and \textcolor{okgrn}{\textbf{Output}} are highlighted at each step. \textbf{Step 1}: Obtain text embeddings}
\LLn{for all entities in the KG, achieved by merging word embeddings with description embeddings retrieved from}
\LLn{LLMs. \textbf{Step 2}: Hierarchical clustering is applied iteratively to all entity embeddings over various distance}
\LLn{thresholds, monitored by a Silhouette scorer to identify optimal clusters, thus constructing a seed hierarchy}
\LLn{where each leaf node represents a cluster of semantically similar entities. \textbf{Step 3}: Leveraging LLM guidance, the}
\LLn{seed hierarchy is iteratively refined bottom-up through a series of suggested actions, aiming for a more accurate}
\LLn{organization of KG entities with LLM’s knowledge. \textbf{Step 4}: Use the refined hierarchy along with KG triples and}
\LEn{the initial entity embeddings to fine-tune the embeddings under a series of distance constraints.}}
\txtblock{p3a}{2017.6}{606.6}{%
\LLn{captured by PLMs. KG-BERT [\cbl{22}], PKGC [\cbl{28}], TagReal [\cbl{29}], and KG-LLM [\cbl{31}] train PLMs/LLMs}
\LLn{with a full set of classification data and prompts. However, these approaches are computationally}
\LLn{expensive due to the need to iterate over all possible positive/negative triples. LMKE [\cbl{26}] and}
\LLn{SimKGC [\cbl{27}] adopt contrastive learning frameworks to tackle issues like expensive negative sampling}
\LLn{and enable efficient learning for text-based KGC. KG-S2S [\cbl{24}] and KGT5 [\cbl{25}] employ sequence-}
\LLn{to-sequence models to generate missing entities or relations in the KG. StAR [\cbl{23}] and CSProm-KG}
\LLn{[\cbl{32}] fuse embeddings from graph-based models and PLMs. However, they are limited to small-scale}
\LLn{PLMs and do not leverage the hierarchical and clustering information reflecting the LLM’s knowledge}
\LLn{of entities. Fully LLM prompting-based methods [\cbl{33}, \cbl{34}] are costly and not scalable. In contrast,}
\LLn{our proposed \kgf{} approach can be applied to any LLM, incorporating its knowledge through}
\LLn{a semantically coherent hierarchical structure of entities. This enables efficient exploitation of the}
\LEn{extensive knowledge within LLMs, while maintaining the efficiency of structure-based methods.}}
\tx[anchor=base west,font=\rmfamily\bfseries\fontsize{12}{14}\selectfont]{s3n}{2017.6}{835.5}{3}
\tx[anchor=base west,font=\rmfamily\bfseries\fontsize{12}{14}\selectfont]{s3t}{2045}{835.5}{KG-FIT Framework}
\txtblock{p3b}{2017.6}{870}{%
\LLn{We present \kgf{} (as shown in Fig. \rlk{2}), a framework for fine-tuning KG embeddings leveraging}
\LLn{external hierarchical structures and textual information based on open knowledge. This framework}
\LLn{comprises two primary components: (1) \textbf{LLM-Guided Hierarchy Construction}: This phase}
\LLn{establishes a semantically coherent hierarchical structure of entities, initially constructing a seed}
\LLn{hierarchy and then refining it using LLM-guided techniques, and (2) \textbf{Knowledge Graph Fine-Tuning}:}
\LLn{This stage enhances the KG embeddings by integrating the constructed hierarchical structure, textual}
\LLn{embeddings, and multiple constraints. The two stages combined to enrich KG embeddings with}
\LLn{open-world knowledge, leading to more comprehensive and contextually rich representations. Below}
\LEn{we present more tecnical details. A table of notations is placed in Appendix \rlk{L}.}}
\tx[anchor=base west,font=\rmfamily\bfseries\fontsize{10}{11}\selectfont]{s31n}{2017.6}{1042}{3.1}
\tx[anchor=base west,font=\rmfamily\bfseries\fontsize{10}{11}\selectfont]{s31t}{2051.6}{1042}{LLM-Guided Hierarchy Construction}
\txtblock{p3c}{2017.6}{1073}{%
\LLn{We initiate the process by constructing a hierarchical structure of entities through agglomerative}
\LEn{clustering, subsequently refining it using an LLM to enhance semantic coherence and granularity.}}
\tx{pn3}{2317.6}{1135}{3}
%% ---------- PAGE 4
\txtblock{p4a}{2944.6}{122.4}{%
\LLn{\textbf{Step 1: Entity Embedding Initialization} is the first step of this process, where we are given a set of}
\LLn{entities $\mathcal{E}=\{e_1,\ldots,e_{|\mathcal{E}|}\}$ within a KG, and will enrich their semantic representations by generating}
\LLn{descriptions using an LLM. Specifically for each entity $e_i$, we prompt the LLM with a template}
\LLn{(e.g., \texttt{Briefly describe [entity] with the format ``[entity] is a [description]''}.}
\LLn{(detailed in Appendix \rlk{E.1})) prompting it to describe the entity from the KG dataset, thereby yielding}
\LLn{a concise natural language description $d_i$. Subsequently, the entity embedding $\mathbf{v}_i^e\in\mathbb{R}^{\dim(f)}$ and}
\LLn{description embedding $\mathbf{v}_i^d=f(d_i)\in\mathbb{R}^{\dim(f)}$ are obtained using an embedding model $f$ and}
\LEn{concatenated to form the enriched entity representation $\mathbf{v}_i$:}}
\tx{eq1}{3244}{270}{$\mathbf{v}_i=[\mathbf{v}_i^e;\mathbf{v}_i^d].$}
\tx[anchor=base east]{eq1n}{3544.6}{270}{(1)}
\txtblock{p4b}{2944.6}{294.4}{%
\LLn{\textbf{Step 2: Seed Hierarchy Construction} follows after entity embedding initialization. Here we}
\LLn{choose agglomerative hierarchical clustering [\cbl{35}] over flat clustering methods like K-means [\cbl{36}] for}
\LLn{establishing the initial hierarchy. This choice is based on the robust hierarchical information provided}
\LLn{by agglomerative clustering, which serves as a strong foundation for LLM refinement. Using this}
\LLn{hierarchical structure reduces the need for numerous LLM iterations to discern relationships between}
\LLn{flat clusters, thereby lowering computational costs and complexity. Agglomerative clustering balances}
\LLn{computational efficiency with providing the LLM a meaningful starting point for refinement. The}
\LLn{clustering process operates on enriched entity representations $\mathbf{V}=\{\mathbf{v}_1,\ldots,\mathbf{v}_l\}\in\mathbb{R}^{|\mathcal{E}|\times 2\dim(f)}$}
\LLn{using cosine distance and average linkage. The optimal clustering threshold $\tau^*$ is determined by}
\LEn{maximizing the silhouette score [\cbl{37}] $S^*$ across a range of thresholds $[\tau_{\min},\tau_{\max}]\in[0,1]$:}}
\tx{eq2}{3244}{470.8}{$\tau_{\text{optim}}=\arg\max_{\tau\in[\tau_{\min},\tau_{\max}]}S^*(\mathbf{V},\text{labels}_\tau)$}
\tx[anchor=base east]{eq2n}{3544.6}{470.8}{(2)}
\txtblock{p4c}{2944.6}{497.3}{%
\LLn{where labels$_\tau$ are the clustering results at threshold $\tau$. This ensures that the resulting clusters are}
\LLn{compact and well-separated based on semantic similarity. The constructed hierarchy forms a fully}
\LLn{binary tree where each leaf node represents an entity. We use a top-down algorithm (detailed in}
\LLn{Appendix \rlk{F.1}) to replace the first encountered entity with its cluster based on the optimal threshold}
\LLn{$\tau_{\text{optim}}$. This process eliminates other entity leaves within the same cluster, forming the seed hierarchy}
\LEn{$\mathcal{H}_{\text{seed}}$, where each leaf node is a cluster of entities defined by labels$_{\tau_{\text{optim}}}$.}}
\txtblock{p4d}{2944.6}{604}{%
\LLn{\textbf{Step 3: LLM-Guided Hierarchy Refinement (LHR)} is then applied to improve the quality of the}
\LLn{knowledge representation. As the seed hierarchy $\mathcal{H}_{\text{seed}}$ is a binary tree, which may not optimally}
\LLn{represent real-world entity knowledge, we further refine it using the LLM. The LLM transforms the}
\LEn{seed hierarchy into the LLM-guided refined hierarchy $\mathcal{H}_{\text{LHR}}$ through actions described below:}}
\txtblock{p4e}{2944.6}{679.2}{%
\LLn{\textbf{\textit{i. Cluster Splitting:}} For each leaf cluster $C_{\text{original}}\in\mathcal{C}_{\text{leaf}}(\mathcal{H}_{\text{seed}})$, the LLM recursively splits it into}
\LEn{two subclusters using the prompt $\mathcal{P}_{\text{SPLIT}}$ (Fig. \rlk{8} in Appendix \rlk{E.2}):}}
\tx{eq3}{3244}{721.3}{$C_{\text{split}}=\text{LLM}(\mathcal{P}_{\text{SPLIT}}(C_{\text{original}})),\quad C_{\text{original}}\rightarrow C_{\text{split}}=\{C_1,C_2,\ldots,C_k\},$}
\tx[anchor=base east]{eq3n}{3544.6}{721.3}{(3)}
\txtblock{p4f}{2944.6}{750.3}{%
\LLn{where $C_i=\{e_1^i,e_2^i,\ldots,e_{|C_i|}^i\}$, $\sum_{i=1}^k|C_i|=|C_{\text{original}}|=|C_{\text{split}}|$, $k$ is the total number of subclusters}
\LLn{after recursively splitting $C_{\text{original}}$ in a binary manner. This procedure iterates until LLM indicates no}
\LLn{further splitting or each subcluster has minimal entities, resulting in an intermediate hierarchy $\mathcal{H}_{\text{split}}$.}}
\txtblock{p4g}{2944.6}{811.6}{%
\LLn{\textbf{\textit{ii. Bottom-Up Refinement:}} In the bottom-up refinement phase, the LLM iteratively refines the}
\LLn{intermediate hierarchy $\mathcal{H}_{\text{split}}$ produced by the cluster splitting step. The refinement process starts}
\LLn{from the leaf level of the hierarchy and progresses upwards, considering each parent-child triple}
\LLn{$(P_*,P_l,P_r)$, where $P_*$ represents the grandparent cluster, and $P_l$ and $P_r$ represent the left and}
\LLn{right child clusters of $P_*$, respectively. Let $\{C_1^l,C_2^l,C_3^l,\ldots,C_{|P_l|}^l\}$ denote the children of $P_l$, and}
\LEn{$\{C_1^r,C_2^r,C_3^r,\ldots,C_{|P_r|}^r\}$ denote the children of $P_r$.}}
\txtblock{p4h}{2944.6}{927.9}{%
\LLn{For each parent-child triple, the LLM is prompted with $\mathcal{P}_{\text{REFINE}}(P_*,P_l,P_r)$ (Fig. \rlk{9} in Appendix \rlk{E.2}),}
\LLn{which provides the names and entities of the grandparent and child clusters. The LLM then suggests}
\LLn{a refinement action to update the triple based on its understanding of the relationships between the}
\LEn{clusters. The refinement options are:}}
\tx[anchor=base west]{l1n}{2944.6}{1008.7}{1.}
\txtblock[384.9pt]{l1t}{2963.5}{1008.7}{\LEn{\textbf{NO UPDATE}: The triple remains unchanged, i.e., $(P_*',P_l',P_r')=(P_*,P_l,P_r)$.}}
\tx[anchor=base west]{l2n}{2944.6}{1030.9}{2.}
\txtblock[384.9pt]{l2t}{2963.5}{1030.9}{%
\LLn{\textbf{PARENT MERGE}: All the children of $P_l$ and $P_r$ are merged into the grandparent cluster $P_*$,}
\LLn{resulting in $P_*'=\{C_1^l,C_2^l,C_3^l,\ldots,C_{|P_l|}^l,C_1^r,C_2^r,C_3^r,\ldots,C_{|P_r|}^r\}$. The original child clusters $P_l$}
\LEn{and $P_r$ are removed from the hierarchy.}}
\tx[anchor=base west]{l3n}{2944.6}{1089}{3.}
\txtblock[384.9pt]{l3t}{2963.5}{1089}{\LEn{\textbf{LEAF MERGE}: $P_*'=\{e_1,e_2,\ldots,e_p\}$, $P_l'=\emptyset$, $P_r'=\emptyset$, where $\{e_1,e_2,\ldots,e_p\}=P_l\cup P_r$.}}
\tx{pn4}{3244.6}{1135}{4}
%% ---------- PAGE 5
\tx[anchor=base west]{l4n}{3871.6}{122.4}{4.}
\txtblock[384.9pt]{l4t}{3890.6}{122.4}{%
\LLn{\textbf{INCLUDE}: One of the child clusters is absorbed into the other, while the grandparent cluster}
\LEn{remains unchanged. This can happen in two ways:}}
\tx[anchor=base west]{b1n}{3909}{160.8}{$\bullet$}
\tx[anchor=base west]{b1t}{3921.5}{160.8}{$P_*'=P_l'=\{C_1^l,C_2^l,C_3^l,\ldots,C_{|P_l|}^l,P_r\}$, and $P_r'=\emptyset$, or}
\tx[anchor=base west]{b2n}{3909}{183.7}{$\bullet$}
\tx[anchor=base west]{b2t}{3921.5}{183.7}{$P_*'=P_r'=\{P_l,C_1^r,C_2^r,C_3^r,\ldots,C_{|P_r|}^r\}$, and $P_l'=\emptyset$.}
\txtblock{p5a}{3871.6}{216.9}{%
\LLn{The LLM determines the most appropriate refinement action based on the semantic similarity}
\LLn{and hierarchical relationships between the clusters. The refinement process continues bottom-up,}
\LLn{iteratively updating the triples until the root of the hierarchy is reached. The resulting refined hierarchy}
\LEn{is denoted as $\mathcal{H}_{\text{LHR}}$. We place more details of the process in Appendix \rlk{E.2} and \rlk{F.2}.}}
\tx[anchor=base west,font=\rmfamily\bfseries\fontsize{10}{11}\selectfont]{s32n}{3871.6}{303}{3.2}
\tx[anchor=base west,font=\rmfamily\bfseries\fontsize{10}{11}\selectfont]{s32t}{3905.5}{303}{Global Knowledge-Guided Local Knowledge Graph Fine-Tuning}
\txtblock{p5b}{3871.6}{333.6}{%
\LLn{\textbf{Step 4:} \kgf{} fine-tunes the knowledge graph embeddings by incorporating the hierarchical}
\LLn{structure, text embeddings, and three main constraints: the hierarchical clustering constraint, text}
\LEn{embedding deviation constraint, and link prediction objective.}}
\txtblock{p5c}{3871.6}{391.3}{%
\LLn{\textbf{Initialization of Entity and Relation Embeddings:} To integrate the initial text embeddings ($\mathbf{v}_i\in$}
\LLn{$\mathbb{R}^{\dim(f)}$) into the model, the entity embedding $\mathbf{e}_i\in\mathbb{R}^n$ is initialized as a linear combination of a}
\LLn{random embedding $\mathbf{e}_i'\in\mathbb{R}^n$ and the sliced text embedding $\mathbf{v}_i'=[\mathbf{v}_i^e[:\frac{n}{2}];\mathbf{v}_i^d[:\frac{n}{2}]]\in\mathbb{R}^n$. The}
\LEn{relation embeddings, on the other hand, are initialized randomly:}}
\tx{eq4}{4167.6}{465.6}{$\mathbf{e}_i=\rho\mathbf{e}_i'+(1-\rho)\mathbf{v}_i',\quad\mathbf{r}_j\sim N(0,\psi^2)$}
\tx[anchor=base east]{eq4n}{4471.6}{465.6}{(4)}
\txtblock{p5d}{3871.6}{489.4}{%
\LLn{where $\rho$ is a hyperparameter controlling the ratio between the random embedding and the sliced}
\LLn{text embedding. $\mathbf{r}_j\in\mathbb{R}^m$ is the embedding of relation $j$, and $\psi$ is a hyperparameter controlling the}
\LLn{standard deviation of the normal distribution $N$. This initialization ensures that the entity embeddings}
\LLn{start close to their semantic descriptions but can still adapt to the structural information in the KG}
\LLn{during training. The random initialization of relation embeddings allows the model to flexibly capture}
\LEn{the structural information and patterns specific to the KG.}}
\txtblock{p5e}{3871.6}{597.3}{%
\LLn{\textbf{Hierarchical Clustering Constraint:} The hierarchical constraint integrates the structure and rela-}
\LLn{tionships derived from the adaptive agglomerative clustering and LLM-guided refinement process.}
\LLn{This optimization enhances the embeddings for hierarchical coherence and distinct semantic clarity.}
\LEn{The revised constraint consists of three tailored components:}}
\tx{eq5}{4162.5}{686}{$\displaystyle\mathcal{L}_{\text{hier}}=\sum_{e_i\in E}\Bigg(\underbrace{\lambda_1 d(\mathbf{e}_i,\mathbf{c})}_{\text{\textbf{\textit{Cluster Cohesion}}}}-\lambda_2\underbrace{\sum_{C'\in\mathcal{S}_m(C)}\frac{d(\mathbf{e}_i,\mathbf{c}')}{|\mathcal{S}_m(C)|}}_{\text{\textbf{\textit{Inter-level Cluster Separation}}}}-\lambda_3\underbrace{\sum_{j=1}^{h-1}\frac{\beta_j(d(\mathbf{e}_i,\mathbf{p}_{j+1})-d(\mathbf{e}_i,\mathbf{p}_j))}{h-1}}_{\text{\textbf{\textit{Hierarchical Distance Maintenance}}}}\Bigg)$}
\tx[anchor=base east]{eq5n}{4471.6}{686}{(5)}
\txtblock{p5f}{3871.6}{751.5}{%
\LLn{where: $e_i$ and $\mathbf{e}_i$ represent the entity and its embedding. $C$ is the cluster that entity $e_i$ belongs to.}
\LLn{$\mathcal{S}_m(C)$ represents the set of neighbor clusters of $C$ where $m$ is the number of nearest neighbors}
\LLn{(determined by lowest common ancestor (LCA) [\cbl{38}] in the hierarchy). $\mathbf{c}$ and $\mathbf{c}'$ denote the cluster}
\LLn{embeddings of $C$ and $C'$, which is computed by averaging all the embedding of entities under them}
\LLn{(i.e., $\mathbf{c}=\frac{1}{|C|}\sum_{e_i\in C}\mathbf{e}_i\in\mathbb{R}^n$). $\mathbf{p}_j$ and $\mathbf{p}_{j+1}$ are the embeddings of the parent nodes along the path}
\LLn{from the entity (at depth $h$) to the root, indicating successive parent nodes in ascending order. Each}
\LLn{parent node is computed by averaging the cluster embeddings under it ($\mathbf{p}=\frac{1}{|P|}\sum_{C_i\in P}\mathbf{c}_i\in\mathbb{R}^n$).}
\LLn{$d(\cdot,\cdot)$ is the distance function used to measure distances between embeddings. As higher levels of}
\LLn{abstraction encompass a broader range of concepts, and thus a strict maintenance of hierarchical}
\LLn{distance may be less critical at these levels, we introduce $\beta_j=\beta_0\cdot e^{-\phi j}$ where $\beta_0$ is the initial weight}
\LLn{for the closest parent, typically a larger value, $\phi$ is the decay rate, a positive constant that dictates}
\LLn{how rapidly the importance decreases. $\lambda_1$, $\lambda_2$, and $\lambda_3$ are hyperparameters. In Eq \rlk{5}, \textbf{\textit{Inter-level}}}
\LLn{\textbf{\textit{Cluster Separation}} aims to maximize the distance between an entity and neighbor clusters, enhancing}
\LLn{the differentiation and reducing potential overlap in the embedding space. This separation ensures}
\LLn{that entities are distinctly positioned relative to non-member clusters, promoting clearer semantic}
\LLn{divisions. \textbf{\textit{Hierarchical Distance Maintenance}} encourages the distance between an entity and its}
\LLn{parent nodes to be proportional to their respective levels in the hierarchy, with larger distances for}
\LLn{higher-level parent nodes. This reflects the increasing abstraction and decreasing specificity, aligning}
\LLn{the embeddings with the hierarchical structure of the KG. \textbf{\textit{Cluster Cohesion}} enhances intra-cluster}
\LLn{similarity by minimizing the distance between an entity and its own cluster center, ensuring that}
\LEn{entities within the same cluster are closely embedded, maintaining the integrity of clusters.}}
\tx{pn5}{4171.6}{1135}{5}
\end{tikzpicture}
\end{document}
